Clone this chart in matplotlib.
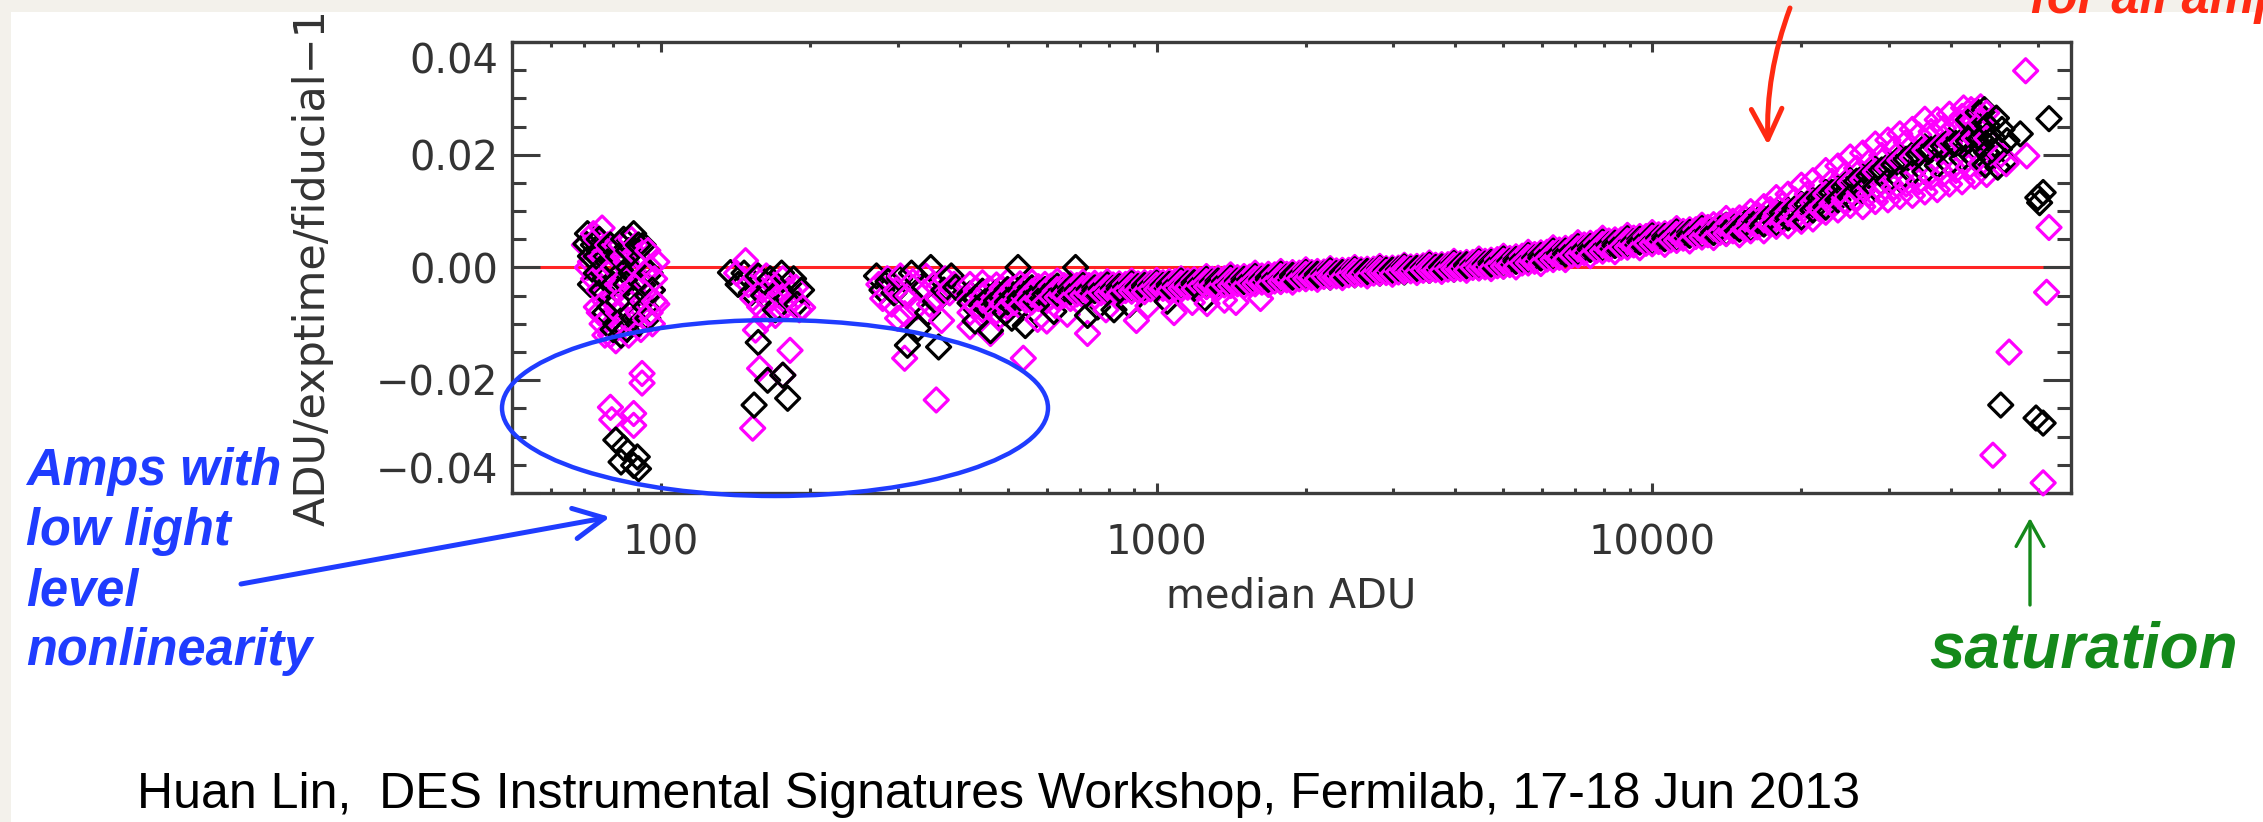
import numpy as np
import matplotlib
matplotlib.use("Agg")
import matplotlib.pyplot as plt
from matplotlib.patches import Ellipse, Rectangle, FancyArrowPatch
from matplotlib.ticker import MultipleLocator, LogLocator, NullFormatter

# ---------------------------------------------------------------- data
# low-light exposures (three separate groups below ~400 ADU)
low_mag_x = [70, 72, 73, 74, 75, 76, 76, 77, 78, 78, 79, 80, 80, 81, 82, 77, 75,
             83, 84, 85, 86, 87, 88, 89, 90, 91, 92, 93, 94, 95, 96, 97, 98, 96, 98, 86, 90,
             71, 73, 74, 76, 78, 80, 82, 84, 85, 87, 89, 91, 93, 95, 97, 84, 79,
             91.5, 91.5, 79, 79.5, 88, 88,
             142, 148, 150, 153, 156, 158, 160, 163, 165, 168, 170, 173, 176, 178, 181, 184,
             187, 190, 193, 155, 182, 158, 176, 153, 162,
             275, 280, 286, 292, 298, 304, 310, 315, 322, 328, 335, 342, 348, 355, 362, 368,
             374, 382, 390, 310, 359, 300]
low_mag_y = [0.004, 0.001, -0.002, 0.005, -0.004, 0.007, 0.002, -0.006, -0.001, -0.009,
             0.003, -0.011, -0.005, -0.013, -0.008, -0.012, -0.008,
             0.004, -0.002, 0.001, -0.006, 0.005, -0.009, -0.003, 0.002, -0.011, -0.006,
             -0.001, 0.003, -0.008, -0.004, -0.002, 0.001, -0.010, -0.0065, -0.012, -0.008,
             0.000, 0.006, -0.007, -0.010, 0.004, 0.000, -0.003, 0.002, -0.009, -0.004,
             0.004, -0.002, -0.009, 0.000, -0.006, -0.005, -0.012,
             -0.0188, -0.0205, -0.0248, -0.0270, -0.0259, -0.0280,
             -0.001, 0.0012, -0.003, -0.0055, -0.002, -0.007, -0.004, -0.0015, -0.006, -0.003,
             -0.0085, -0.005, -0.002, -0.007, -0.004, -0.006, -0.0035, -0.0075, -0.0071,
             -0.0111, -0.0147, -0.0179, -0.0191, -0.0285, -0.009,
             -0.003, -0.0055, -0.002, -0.0065, -0.004, -0.0015, -0.0082, -0.005, -0.0025,
             -0.007, -0.004, -0.0015, -0.0065, -0.003, -0.0055, -0.0094, -0.002, -0.0045,
             -0.003, -0.0161, -0.0235, -0.009]
low_blk_x = [71, 70.5, 72, 73, 74, 75, 76, 78, 79, 80, 81, 83, 82, 84, 86, 87, 88, 89, 90,
             91, 92, 93, 94, 95, 88, 85, 90,
             72, 74, 75, 77, 77, 79, 80, 82, 85, 86, 87, 89, 91, 92, 94, 96,
             81, 84, 89.5, 88, 90, 83,
             138, 143, 147, 152, 157, 161, 166, 171, 175, 180, 185, 188, 192, 157, 164, 176,
             154, 180, 170,
             272, 279, 287, 295, 303, 312, 320, 330, 314, 340, 350, 358, 363, 372, 385, 393, 345]
low_blk_y = [0.006, 0.0042, 0.002, 0.004, -0.001, 0.003, -0.004, 0.001, -0.007, -0.003,
             -0.010, -0.012, 0.002, 0.005, 0.003, -0.001, 0.006, -0.005, 0.004, 0.000, -0.003,
             -0.007, -0.005, -0.001, -0.009, -0.011, -0.010,
             -0.003, 0.002, 0.005, -0.002, -0.008, 0.004, -0.011, -0.006, -0.003, 0.000,
             -0.008, 0.001, -0.006, 0.004, -0.009, -0.004,
             -0.0306, -0.0320, -0.0336, -0.0351, -0.0357, -0.0345,
             -0.0009, -0.003, -0.001, -0.0045, -0.0015, -0.005, -0.002, -0.0045, -0.001,
             -0.0055, -0.002, -0.0065, -0.004, -0.0133, -0.020, -0.0191, -0.0244, -0.0232,
             -0.0075,
             -0.0015, -0.004, -0.0025, -0.0045, -0.002, -0.005, -0.001, -0.0108, -0.0138,
             -0.0035, 0.000, -0.006, -0.0141, -0.004, -0.0015, -0.0035, -0.008]

# continuous sequence of exposures from ~400 ADU up to saturation
band_adu = [420, 445, 475, 500, 530, 560, 595, 630, 670, 710,
            750, 795, 840, 890, 945, 1000, 1060, 1120, 1190, 1260,
            1330, 1410, 1500, 1580, 1680, 1780, 1880, 2000, 2110, 2240,
            2370, 2510, 2660, 2820, 2990, 3160, 3350, 3550, 3760, 3980,
            4220, 4470, 4730, 5010, 5310, 5620, 5960, 6310, 6680, 7080,
            7500, 7940, 8410, 8910, 9440, 10000, 10600, 11200, 11900, 12600,
            13300, 14100, 15000, 15800, 16800, 17800, 18800, 20000, 21100, 22400,
            23700, 25100, 26600, 28200, 29900, 31600, 33500, 35500, 37600, 39800,
            42200, 44700, 47300]
band_mag_hi = [-0.0030, -0.0027, -0.0031, -0.0025, -0.0029, -0.0026, -0.0030, -0.0024, -0.0029, -0.0026,
               -0.0028, -0.0025, -0.0029, -0.0024, -0.0027, -0.0023, -0.0025, -0.0020, -0.0022, -0.0016,
               -0.0019, -0.0013, -0.0016, -0.0010, -0.0012, -0.0007, -0.0009, -0.0004, -0.0007, -0.0002,
               -0.0005, 0.0000, -0.0003, 0.0002, -0.0001, 0.0004, 0.0002, 0.0008, 0.0005, 0.0011,
               0.0009, 0.0015, 0.0013, 0.0020, 0.0019, 0.0027, 0.0026, 0.0035, 0.0034, 0.0044,
               0.0043, 0.0052, 0.0049, 0.0057, 0.0055, 0.0062, 0.0060, 0.0069, 0.0067, 0.0075,
               0.0076, 0.0087, 0.0088, 0.0099, 0.0108, 0.0124, 0.0130, 0.0146, 0.0154, 0.0172,
               0.0180, 0.0196, 0.0203, 0.0219, 0.0226, 0.0237, 0.0245, 0.0263, 0.0262, 0.0272,
               0.0268, 0.0276, 0.0274]
band_mag_mid = [-0.0057, -0.0052, -0.0054, -0.0048, -0.0050, -0.0044, -0.0046, -0.0039, -0.0042, -0.0037,
                -0.0041, -0.0036, -0.0038, -0.0033, -0.0036, -0.0031, -0.0034, -0.0028, -0.0031, -0.0025,
                -0.0028, -0.0023, -0.0025, -0.0020, -0.0022, -0.0016, -0.0018, -0.0012, -0.0015, -0.0010,
                -0.0012, -0.0007, -0.0010, -0.0004, -0.0007, -0.0002, -0.0004, 0.0001, -0.0001, 0.0004,
                0.0002, 0.0007, 0.0006, 0.0011, 0.0011, 0.0018, 0.0017, 0.0025, 0.0025, 0.0033,
                0.0033, 0.0041, 0.0039, 0.0047, 0.0046, 0.0052, 0.0051, 0.0059, 0.0058, 0.0065,
                0.0065, 0.0074, 0.0074, 0.0082, 0.0085, 0.0096, 0.0099, 0.0110, 0.0116, 0.0130,
                0.0136, 0.0151, 0.0156, 0.0170, 0.0176, 0.0190, 0.0195, 0.0208, 0.0210, 0.0220,
                0.0220, 0.0229, 0.0229]
band_mag_lo = [-0.0080, -0.0075, -0.0078, -0.0070, -0.0069, -0.0061, -0.0062, -0.0053, -0.0055, -0.0049,
               -0.0051, -0.0046, -0.0047, -0.0042, -0.0043, -0.0039, -0.0041, -0.0037, -0.0038, -0.0034,
               -0.0036, -0.0032, -0.0033, -0.0029, -0.0030, -0.0025, -0.0026, -0.0020, -0.0021, -0.0017,
               -0.0018, -0.0013, -0.0015, -0.0010, -0.0012, -0.0007, -0.0009, -0.0005, -0.0007, -0.0003,
               -0.0005, -0.0001, -0.0002, 0.0002, 0.0001, 0.0008, 0.0007, 0.0014, 0.0014, 0.0022,
               0.0021, 0.0029, 0.0028, 0.0036, 0.0035, 0.0042, 0.0041, 0.0048, 0.0047, 0.0054,
               0.0053, 0.0060, 0.0058, 0.0065, 0.0065, 0.0073, 0.0074, 0.0082, 0.0086, 0.0098,
               0.0102, 0.0110, 0.0108, 0.0117, 0.0120, 0.0126, 0.0128, 0.0134, 0.0138, 0.0148,
               0.0152, 0.0162, 0.0165]
band_blk_a = [-0.0047, -0.0042, -0.0044, -0.0039, -0.0041, -0.0036, -0.0039, -0.0033, -0.0037, -0.0032,
              -0.0036, -0.0031, -0.0034, -0.0029, -0.0032, -0.0028, -0.0030, -0.0024, -0.0027, -0.0021,
              -0.0024, -0.0019, -0.0021, -0.0016, -0.0018, -0.0012, -0.0014, -0.0009, -0.0012, -0.0006,
              -0.0009, -0.0004, -0.0007, -0.0002, -0.0005, 0.0001, -0.0002, 0.0004, 0.0001, 0.0007,
              0.0005, 0.0010, 0.0009, 0.0015, 0.0014, 0.0021, 0.0021, 0.0029, 0.0029, 0.0037,
              0.0037, 0.0045, 0.0043, 0.0051, 0.0050, 0.0056, 0.0055, 0.0063, 0.0062, 0.0069,
              0.0066, 0.0075, 0.0075, 0.0084, 0.0086, 0.0098, 0.0101, 0.0112, 0.0118, 0.0133,
              0.0139, 0.0154, 0.0160, 0.0174, 0.0180, 0.0194, 0.0200, 0.0214, 0.0215, 0.0225,
              0.0225, 0.0233, 0.0233]
band_blk_b = [-0.0063, -0.0065, -0.0059, -0.0061, -0.0054, -0.0055, -0.0048, -0.0049, -0.0043, -0.0046,
              -0.0041, -0.0044, -0.0038, -0.0041, -0.0035, -0.0038, -0.0033, -0.0036, -0.0030, -0.0033,
              -0.0028, -0.0030, -0.0025, -0.0027, -0.0021, -0.0024, -0.0017, -0.0019, -0.0014, -0.0017,
              -0.0011, -0.0013, -0.0008, -0.0010, -0.0005, -0.0008, -0.0002, -0.0005, 0.0000, -0.0003,
              0.0003, 0.0000, 0.0006, 0.0003, 0.0011, 0.0010, 0.0017, 0.0016, 0.0024, 0.0025,
              0.0032, 0.0032, 0.0039, 0.0038, 0.0045, 0.0044, 0.0051, 0.0050, 0.0057, 0.0056,
              0.0062, 0.0061, 0.0068, 0.0068, 0.0077, 0.0078, 0.0088, 0.0089, 0.0102, 0.0107,
              0.0120, 0.0125, 0.0137, 0.0141, 0.0153, 0.0157, 0.0168, 0.0170, 0.0181, 0.0184,
              0.0193, 0.0195, 0.0204]

# exposures lying between the ones above
band2_adu = [432, 460, 487, 515, 545, 577, 612, 650, 690, 730,
             772, 817, 865, 917, 972, 1030, 1090, 1155, 1225, 1295,
             1370, 1455, 1540, 1630, 1730, 1830, 1940, 2055, 2175, 2305,
             2440, 2585, 2740, 2905, 3075, 3255, 3450, 3655, 3870, 4100,
             4345, 4600, 4870, 5160, 5465, 5790, 6135, 6495, 6880, 7290,
             7720, 8175, 8660, 9175, 9720, 10300, 10900, 11550, 12250, 12950,
             13700, 14550, 15400, 16300, 17300, 18300, 19400, 20550, 21750, 23050,
             24400, 25850, 27400, 29050, 30750, 32550, 34500, 36550, 38700, 41000,
             43450, 46000]
band2_mag_a = [-0.0039, -0.0038, -0.0037, -0.0036, -0.0035, -0.0034, -0.0033, -0.0032, -0.0032, -0.0032,
               -0.0031, -0.0031, -0.0030, -0.0029, -0.0028, -0.0027, -0.0025, -0.0024, -0.0023, -0.0021,
               -0.0020, -0.0018, -0.0017, -0.0015, -0.0013, -0.0012, -0.0010, -0.0009, -0.0008, -0.0006,
               -0.0005, -0.0004, -0.0003, -0.0002, -0.0001, 0.0001, 0.0003, 0.0004, 0.0005, 0.0007,
               0.0009, 0.0011, 0.0014, 0.0016, 0.0020, 0.0023, 0.0027, 0.0031, 0.0035, 0.0040,
               0.0043, 0.0047, 0.0049, 0.0052, 0.0055, 0.0058, 0.0061, 0.0064, 0.0067, 0.0071,
               0.0077, 0.0082, 0.0087, 0.0094, 0.0103, 0.0111, 0.0120, 0.0130, 0.0141, 0.0153,
               0.0164, 0.0176, 0.0187, 0.0199, 0.0210, 0.0222, 0.0235, 0.0241, 0.0247, 0.0250,
               0.0254, 0.0257]
band2_mag_b = [-0.0069, -0.0067, -0.0065, -0.0062, -0.0058, -0.0055, -0.0052, -0.0049, -0.0047, -0.0046,
               -0.0045, -0.0043, -0.0041, -0.0040, -0.0038, -0.0037, -0.0036, -0.0035, -0.0033, -0.0032,
               -0.0031, -0.0029, -0.0028, -0.0026, -0.0024, -0.0022, -0.0020, -0.0018, -0.0016, -0.0015,
               -0.0013, -0.0012, -0.0010, -0.0009, -0.0008, -0.0006, -0.0005, -0.0004, -0.0003, -0.0002,
               0.0000, 0.0001, 0.0003, 0.0005, 0.0008, 0.0011, 0.0015, 0.0018, 0.0022, 0.0026,
               0.0030, 0.0033, 0.0036, 0.0040, 0.0043, 0.0046, 0.0049, 0.0052, 0.0055, 0.0058,
               0.0062, 0.0065, 0.0068, 0.0072, 0.0077, 0.0083, 0.0088, 0.0095, 0.0104, 0.0113,
               0.0118, 0.0124, 0.0130, 0.0136, 0.0142, 0.0148, 0.0152, 0.0160, 0.0166, 0.0172,
               0.0178, 0.0184]
band2_blk = [-0.0054, -0.0053, -0.0051, -0.0049, -0.0047, -0.0045, -0.0042, -0.0041, -0.0040, -0.0039,
             -0.0038, -0.0037, -0.0035, -0.0034, -0.0033, -0.0032, -0.0031, -0.0029, -0.0028, -0.0026,
             -0.0025, -0.0024, -0.0022, -0.0021, -0.0019, -0.0017, -0.0015, -0.0013, -0.0012, -0.0011,
             -0.0009, -0.0008, -0.0007, -0.0005, -0.0004, -0.0003, -0.0001, 0.0000, 0.0001, 0.0003,
             0.0004, 0.0006, 0.0008, 0.0011, 0.0014, 0.0017, 0.0021, 0.0025, 0.0029, 0.0033,
             0.0037, 0.0040, 0.0043, 0.0046, 0.0049, 0.0052, 0.0055, 0.0058, 0.0061, 0.0064,
             0.0069, 0.0073, 0.0078, 0.0083, 0.0090, 0.0097, 0.0104, 0.0112, 0.0123, 0.0133,
             0.0143, 0.0153, 0.0163, 0.0173, 0.0182, 0.0192, 0.0201, 0.0209, 0.0215, 0.0220,
             0.0224, 0.0229]

# scattered amplifiers below the main sequence
spread_mag_x = [420, 462, 480, 538, 575, 600, 660, 725, 790, 910, 960, 1084, 1180, 1264, 1370,
                1445, 1620]
spread_mag_y = [-0.0105, -0.0117, -0.0088, -0.0161, -0.0092, -0.0095, -0.0083, -0.0117, -0.0075,
                -0.0094, -0.0068, -0.0080, -0.0062, -0.0064, -0.0058, -0.0062, -0.0055]
spread_blk_x = [430, 462, 495, 510, 525, 543, 620, 686, 725, 760, 820, 880, 1050, 1250]
spread_blk_y = [-0.0095, -0.0112, -0.0080, -0.0090, 0.0000, -0.0103, -0.0078, 0.0000, -0.0085,
                -0.0070, -0.0075, -0.0066, -0.0060, -0.0055]

# near and beyond saturation
sat_mag_x = [42500, 44000, 46000, 50500, 51800,
             56700, 57000, 63200, 62500, 52500, 48700, 61500]
sat_mag_y = [0.0283, 0.0280, 0.0285, 0.0200, 0.0184,
             0.0349, 0.0198, 0.0071, -0.0044, -0.0150, -0.0333, -0.0382]
sat_blk_x = [43500, 44500, 45500, 46200, 46800, 47500, 48200, 48800, 49500, 50200, 50800,
             51500, 44000, 47000, 49800, 45800, 52000,
             55300, 63200, 60000, 61500, 60500, 50500, 59500, 61500]
sat_blk_y = [0.0262, 0.0238, 0.0275, 0.0215, 0.0280, 0.0252, 0.0196, 0.0230, 0.0265, 0.0210,
             0.0245, 0.0188, 0.0200, 0.0182, 0.0178, 0.0250, 0.0225,
             0.0237, 0.0264, 0.0124, 0.0133, 0.0115, -0.0244, -0.0267, -0.0276]

x_ticks = [100, 1000, 10000]
x_tick_labels = ["100", "1000", "10000"]
y_ticks = [-0.04, -0.02, 0.00, 0.02, 0.04]
y_tick_labels = ["\u22120.04", "\u22120.02", "0.00", "0.02", "0.04"]

MAGENTA = "#ff00ff"
BLACK = "#000000"

# ---------------------------------------------------------------- figure
W, H = 2263, 822
plt.rcParams["font.family"] = ["DejaVu Sans"]
fig = plt.figure(figsize=(W / 100, H / 100), dpi=100)
fig.patch.set_facecolor("#f3f1eb")


def fx(px):
    return px / W


def fy(py):
    return 1 - py / H


fig.add_artist(Rectangle((fx(11), 0), 1, fy(12), transform=fig.transFigure,
                         facecolor="white", edgecolor="none", zorder=0))

ax = fig.add_axes([fx(512), fy(493), (2071 - 512) / W, (493 - 42) / H])
ax.set_facecolor("white")
ax.set_xscale("log")
ax.set_xlim(50, 70000)
ax.set_ylim(-0.04, 0.04)

# assemble all points, drawn in order of increasing ADU so colours interleave
parts_x, parts_y, parts_c = [], [], []


def add(xs, ys, col):
    parts_x.append(np.asarray(xs, float))
    parts_y.append(np.asarray(ys, float))
    parts_c.extend([col] * len(xs))


add(low_mag_x, low_mag_y, MAGENTA)
add(low_blk_x, low_blk_y, BLACK)
add(band_adu, band_mag_hi, MAGENTA)
add(band_adu, band_blk_a, BLACK)
add(band_adu, band_mag_mid, MAGENTA)
add(band_adu, band_blk_b, BLACK)
add(band_adu, band_mag_lo, MAGENTA)
add(band2_adu, band2_mag_a, MAGENTA)
add(band2_adu, band2_blk, BLACK)
add(band2_adu, band2_mag_b, MAGENTA)
add(spread_mag_x, spread_mag_y, MAGENTA)
add(spread_blk_x, spread_blk_y, BLACK)
add(sat_mag_x, sat_mag_y, MAGENTA)
add(sat_blk_x, sat_blk_y, BLACK)

all_x = np.concatenate(parts_x)
all_y = np.concatenate(parts_y)
all_c = np.array(parts_c)
order = np.argsort(all_x, kind="stable")

ax.axhline(0.0, color="#ff2424", lw=2.2, zorder=1)
ax.scatter(all_x[order], all_y[order], s=150, marker="D", facecolors="none",
           edgecolors=all_c[order], linewidths=2.3, zorder=3, clip_on=False)

# axes styling
frame_col = "#3c3c3c"
for sp in ax.spines.values():
    sp.set_color(frame_col)
    sp.set_linewidth(2.4)

ax.set_xticks(x_ticks, x_tick_labels)
ax.xaxis.set_minor_locator(LogLocator(base=10, subs=np.arange(2, 10)))
ax.xaxis.set_minor_formatter(NullFormatter())
ax.set_yticks(y_ticks, y_tick_labels)
ax.yaxis.set_minor_locator(MultipleLocator(0.005))

ax.tick_params(axis="both", which="both", direction="in", top=True, right=True,
               color=frame_col, width=2.2, labelcolor="#333333", labelsize=28.8)
ax.tick_params(axis="y", which="major", length=20, pad=10)
ax.tick_params(axis="y", which="minor", length=10)
ax.tick_params(axis="x", which="major", length=7.5, pad=22)
ax.tick_params(axis="x", which="minor", length=3.6)

# end labels of the value axis sit inside the frame
ylabels = ax.get_yticklabels()
ylabels[0].set_va("bottom")
ylabels[-1].set_va("top")

ax.set_xlabel("median ADU", fontsize=28.8, color="#333333")
ax.xaxis.label.set_va("center")
ax.xaxis.set_label_coords(0.5, -(596 - 493) / 451)
ax.set_ylabel("ADU/exptime/fiducial\u22121", fontsize=31, color="#333333")
ax.yaxis.label.set_va("center")
ax.yaxis.set_label_coords(-(512 - 313) / 1559, 0.50)

# ---------------------------------------------------------------- annotations
BLUE = "#1f3cff"
GREEN = "#14891a"
RED = "#ff2a12"
bold_it = dict(family=["Liberation Sans", "DejaVu Sans"], weight="bold", style="italic")

fig.add_artist(Ellipse((fx(775), fy(408)), 546 / W, 176 / H, transform=fig.transFigure,
                       fill=False, edgecolor=BLUE, lw=3.2, zorder=5))

fig.add_artist(FancyArrowPatch((fx(241), fy(584)), (fx(610), fy(517)),
                               transform=fig.transFigure, color=BLUE, lw=3.6,
                               arrowstyle="->,head_length=1.1,head_width=0.55",
                               mutation_scale=20, shrinkA=0, shrinkB=0, zorder=5))

for txt, base in [("Amps with", 485), ("low light", 545), ("level", 605), ("nonlinearity", 665)]:
    fig.text(fx(26), fy(base), txt, color=BLUE, fontsize=36.4, va="baseline", ha="left",
             zorder=6, **bold_it)

fig.add_artist(FancyArrowPatch((fx(2030), fy(605)), (fx(2030), fy(518)),
                               transform=fig.transFigure, color=GREEN, lw=2.4,
                               arrowstyle="->,head_length=0.9,head_width=0.5",
                               mutation_scale=20, shrinkA=0, shrinkB=0, zorder=5))
fig.text(fx(2084), fy(667), "saturation", color=GREEN, fontsize=46, ha="center",
         va="baseline", zorder=6, **bold_it)

fig.add_artist(FancyArrowPatch((fx(1790), fy(8)), (fx(1768), fy(145)),
                               transform=fig.transFigure, color=RED, lw=3.6,
                               connectionstyle="arc3,rad=0.1",
                               arrowstyle="->,head_length=1.1,head_width=0.55",
                               mutation_scale=20, shrinkA=0, shrinkB=0, zorder=5))
fig.text(fx(2030), fy(13), "for all amps", color=RED, fontsize=36.4, ha="left",
         va="baseline", zorder=6, **bold_it)

fig.text(fx(137), fy(808), "Huan Lin,  DES Instrumental Signatures Workshop, Fermilab, 17-18 Jun 2013",
         color="black", fontsize=36, family=["Liberation Sans", "DejaVu Sans"],
         ha="left", va="baseline")

fig.savefig("out.png", dpi=100, facecolor=fig.get_facecolor())
